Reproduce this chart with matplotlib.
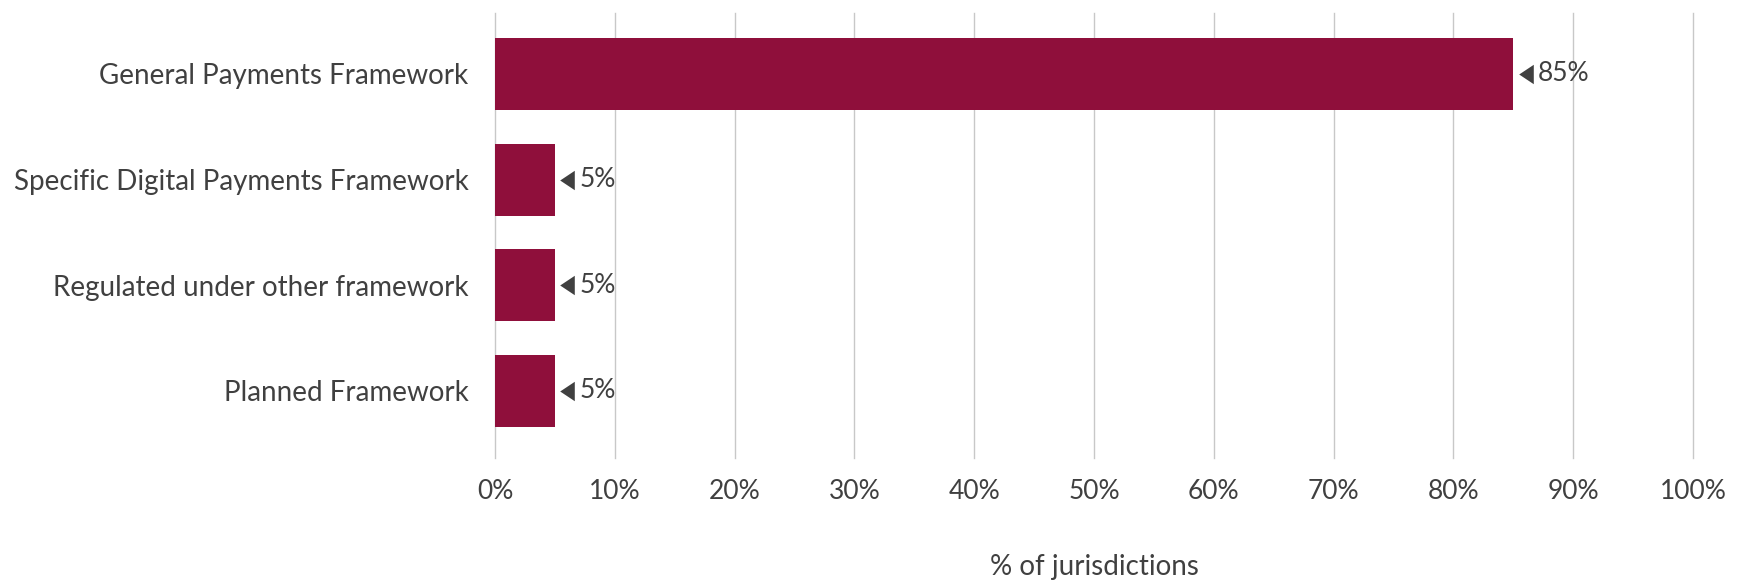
import matplotlib.pyplot as plt
import matplotlib.transforms as mtransforms
import numpy as np

# categories and share of jurisdictions (%)
categories = ["General Payments Framework",
              "Specific Digital Payments Framework",
              "Regulated under other framework",
              "Planned Framework"]
shares = [85, 5, 5, 5]
ticks = np.arange(0, 101, 10)
tick_labels = [f"{t}%" for t in ticks]

bar_color = "#8f0f3b"
text_color = "#404040"

plt.rcParams['font.family'] = ['Lato', 'DejaVu Sans']

fig = plt.figure(figsize=(17.42, 5.82), dpi=100)
ax = fig.add_axes([0.2842, 0.2131, 0.6877, 0.7646])

y = np.arange(len(categories))
ax.barh(y, shares, height=0.68, color=bar_color, zorder=3)

# value markers: narrow left-pointing triangle next to the bar end, then the label
pointer = [(-0.75, 0), (0.75, -1), (0.75, 1)]
tri_off = mtransforms.offset_copy(ax.transData, fig=fig, x=9, y=0, units='points')
for yi, v in zip(y, shares):
    ax.plot(v, yi, marker=pointer, markersize=14, color=text_color,
            markeredgewidth=0, transform=tri_off, clip_on=False, zorder=4)
    ax.annotate(f"{v}%", xy=(v, yi), xytext=(17.5, 0), textcoords='offset points',
                ha='left', va='center', fontsize=19, color=text_color)

ax.set_xlim(0, 100)
ax.set_ylim(3.634, -0.577)
ax.set_xticks(ticks)
ax.set_xticklabels(tick_labels)
ax.set_yticks(y)
ax.set_yticklabels(categories)

ax.grid(axis='x', color='#c8c8c8', linewidth=1.0, zorder=0)
for gl in ax.xaxis.get_gridlines():
    gl.set_clip_on(False)
ax.tick_params(axis='x', length=0, pad=15, labelsize=19, labelcolor=text_color)
ax.tick_params(axis='y', length=0, pad=19, labelsize=20, labelcolor=text_color)
for s in ax.spines.values():
    s.set_visible(False)

ax.set_xlabel("% of jurisdictions", fontsize=20, color=text_color, va='center')
ax.xaxis.set_label_coords(0.5, -0.245)

fig.savefig("out.png", dpi=100)
